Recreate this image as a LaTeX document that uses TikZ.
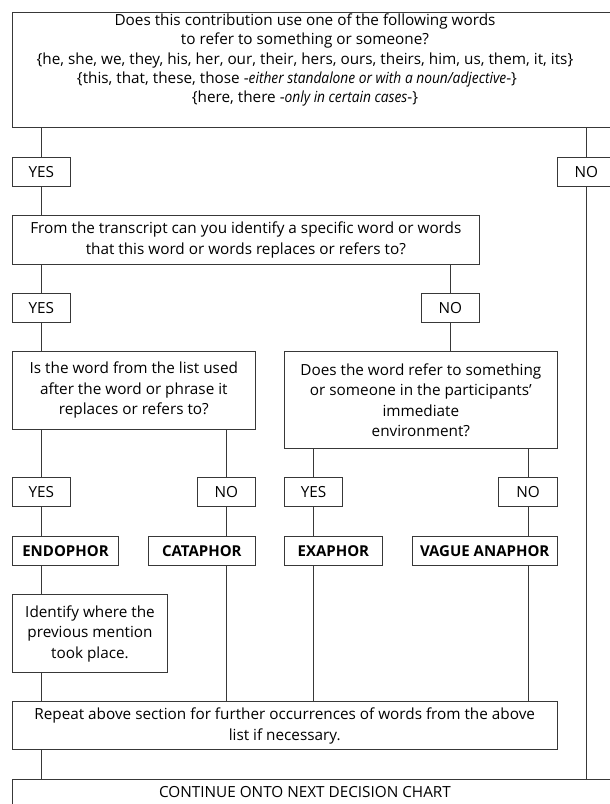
\documentclass[tikz,border=0pt]{standalone}
\usepackage{fontspec}
\setmainfont{Open Sans}[ItalicFeatures={FakeStretch=0.9}]

\tikzset{
  chart/.style={draw=black!78, line width=1pt, anchor=north west, inner sep=0pt,
    align=center, font=\fontsize{15.3}{20.5}\selectfont},
  answer/.style={chart, minimum width=58.3pt, minimum height=28.8pt},
  kind/.style={chart, minimum height=29pt, font=\fontsize{15}{18}\selectfont\bfseries},
  plaintext/.style={align=center, inner sep=0pt, font=\fontsize{15.3}{19.2}\selectfont},
  link/.style={draw=black!78, line width=1pt},
}

\begin{document}
\begin{tikzpicture}[x=1pt, y=-1pt]
  \useasboundingbox (0,0) rectangle (610,804);
  \clip (0,0) rectangle (610,804);
  % questions
  \node[chart, minimum width=608.3pt, minimum height=115pt] (q1) at (11.7,11.7) {};
  \node[plaintext] (q1text) at (305,60) {Does this contribution use one of the following words\\
    to refer to something or someone?\\
    \{he, she, we, they, his, her, our, their, hers, ours, theirs, him, us, them, it, its\}\\
    \hspace*{-16pt}\{this, that, these, those -\textit{either standalone or with a noun/adjective}-\}\\
    \{here, there -\textit{only in certain cases}-\}};
  \node[chart, minimum width=467.3pt, minimum height=49pt] (q2) at (11.7,215)
    {From the transcript can you identify a specific word or words\\
     that this word or words replaces or refers to?};
  \node[chart, minimum width=243.3pt, minimum height=77.7pt] (q3l) at (11.7,351)
    {Is the word from the list used\\ after the word or phrase it\\ replaces or refers to?};
  \node[chart, minimum width=272.7pt, minimum height=97pt] (q3r) at (284,351)
    {Does the word refer to something\\ or someone in the participants'\\ immediate\\ environment?};
  % answers
  \node[answer] (yes1) at (11.7,156.7) {YES};
  \node[answer] (no1) at (556.7,156.7) {NO};
  \node[answer] (yes2) at (11.7,292.7) {YES};
  \node[answer] (no2) at (420.7,292.7) {NO};
  \node[answer] (yes3l) at (11.7,477.3) {YES};
  \node[answer] (no3l) at (196.7,477.3) {NO};
  \node[answer] (yes3r) at (284,477.3) {YES};
  \node[answer] (no3r) at (498.4,477.3) {NO};
  % outcomes
  \node[kind, minimum width=106.6pt] (endo) at (11.7,535.7) {ENDOPHOR};
  \node[kind, minimum width=107.3pt] (cata) at (147.7,535.7) {CATAPHOR};
  \node[kind, minimum width=97.7pt] (exa) at (284,535.7) {EXAPHOR};
  \node[kind, minimum width=145pt] (vague) at (411.7,535.7) {VAGUE ANAPHOR};
  \node[chart, minimum width=155.6pt, minimum height=78pt] (ident) at (11.7,594.3)
    {Identify where the\\ previous mention\\ took place.};
  \node[chart, minimum width=545pt, minimum height=48pt] (repeat) at (11.7,701.3)
    {Repeat above section for further occurrences of words from the above\\ list if necessary.};
  \node[chart, minimum width=608.3pt, minimum height=40pt] (cont) at (11.7,778.7) {};
  \node[plaintext] (conttext) at (305,792.5) {CONTINUE ONTO NEXT DECISION CHART};
  % connectors
  \draw[link] (q1.south -| yes1) -- (yes1.north);
  \draw[link] (yes1.south) -- (q2.north -| yes1);
  \draw[link] (q1.south -| no1) -- (no1.north);
  \draw[link] (no1.south) -- (cont.north -| no1);
  \draw[link] (q2.south -| yes2) -- (yes2.north);
  \draw[link] (q2.south -| no2) -- (no2.north);
  \draw[link] (yes2.south) -- (q3l.north -| yes2);
  \draw[link] (no2.south) -- (q3r.north -| no2);
  \draw[link] (q3l.south -| yes3l) -- (yes3l.north);
  \draw[link] (q3l.south -| no3l) -- (no3l.north);
  \draw[link] (q3r.south -| yes3r) -- (yes3r.north);
  \draw[link] (q3r.south -| no3r) -- (no3r.north);
  \draw[link] (yes3l.south) -- (endo.north -| yes3l);
  \draw[link] (no3l.south) -- (cata.north -| no3l);
  \draw[link] (yes3r.south) -- (exa.north -| yes3r);
  \draw[link] (no3r.south) -- (vague.north -| no3r);
  \draw[link] (endo.south -| yes3l) -- (ident.north -| yes3l);
  \draw[link] (ident.south -| yes3l) -- (repeat.north -| yes3l);
  \draw[link] (cata.south -| no3l) -- (repeat.north -| no3l);
  \draw[link] (exa.south -| yes3r) -- (repeat.north -| yes3r);
  \draw[link] (vague.south -| no3r) -- (repeat.north -| no3r);
  \draw[link] (repeat.south -| yes3l) -- (cont.north -| yes3l);
\end{tikzpicture}
\end{document}
